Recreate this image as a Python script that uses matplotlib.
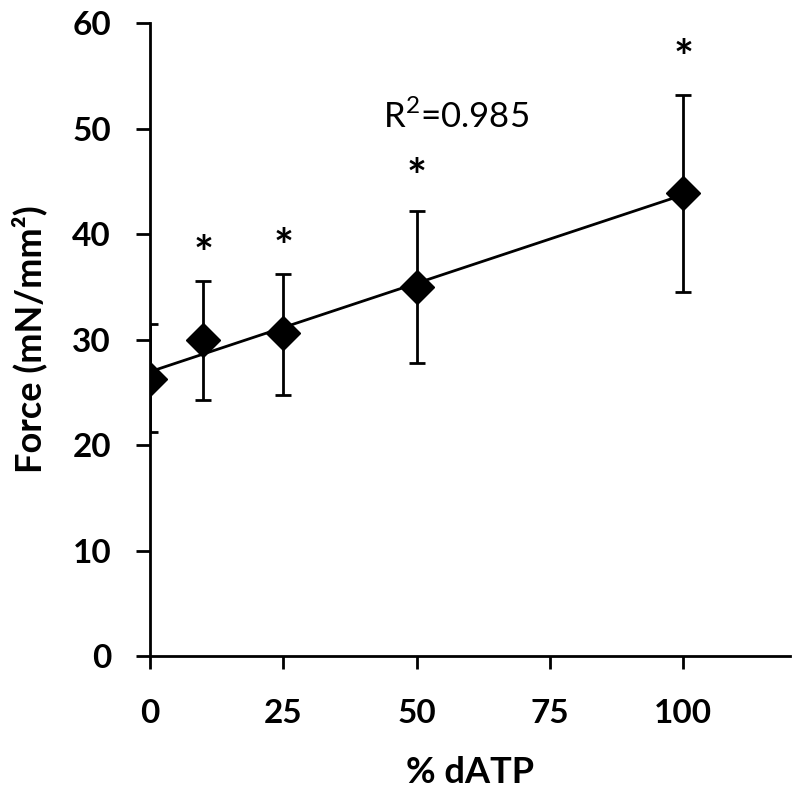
import numpy as np
import matplotlib
matplotlib.use("Agg")
import matplotlib.pyplot as plt

plt.rcParams['font.family'] = ['Lato', 'DejaVu Sans']
plt.rcParams['mathtext.fontset'] = 'custom'
plt.rcParams['mathtext.rm'] = 'Lato'

# data
pct_datp = [0, 10, 25, 50, 100]
force = [26.3, 30.0, 30.6, 35.0, 43.9]
err_low = [21.2, 24.3, 24.7, 27.8, 34.5]
err_high = [31.5, 35.6, 36.2, 42.2, 53.2]

star_x = [10, 25, 50, 100]
star_y = [39.0, 39.6, 46.3, 57.6]

x_ticks = [0, 25, 50, 75, 100]
y_ticks = [0, 10, 20, 30, 40, 50, 60]

x = np.array(pct_datp)
y = np.array(force)
yerr = [y - np.array(err_low), np.array(err_high) - y]

fig = plt.figure(figsize=(8, 7.99), dpi=100)
ax = fig.add_axes([0.1875, 0.179, 0.80, 0.792])

# linear fit
slope, intercept = np.polyfit(x, y, 1)
fx = np.array([0, 100])
ax.plot(fx, slope * fx + intercept, color='black', lw=2, zorder=2)

ax.errorbar(x, y, yerr=yerr, fmt='D', color='black', ms=17, ecolor='black',
            elinewidth=2, capsize=5.5, capthick=2, zorder=3)

# stars, shifted down a bit since '*' sits high in its box
for sx, sy in zip(star_x, star_y):
    ax.annotate('*', (sx, sy), xytext=(0, -8), textcoords='offset points',
                ha='center', va='center', fontsize=34, fontweight='bold')

ax.text(57.4, 51.2, r'R$^\mathrm{2}$=0.985', ha='center', va='center', fontsize=25)

ax.set_xlim(0, 120)
ax.set_ylim(0, 60)
ax.set_xticks(x_ticks)
ax.set_yticks(y_ticks)

for s in ['top', 'right']:
    ax.spines[s].set_visible(False)
for s in ['left', 'bottom']:
    ax.spines[s].set_linewidth(2)

ax.tick_params(axis='y', direction='out', length=10, width=2, labelsize=24, pad=18)
ax.tick_params(axis='x', direction='out', length=9, width=2, labelsize=24, pad=22)
for lab in ax.get_xticklabels() + ax.get_yticklabels():
    lab.set_fontweight('bold')

ax.set_xlabel('% dATP', fontsize=26, fontweight='bold', labelpad=20)
ax.set_ylabel('Force (mN/mm\u00b2)', fontsize=26, fontweight='bold', labelpad=18)

fig.savefig('out.png', dpi=100)
